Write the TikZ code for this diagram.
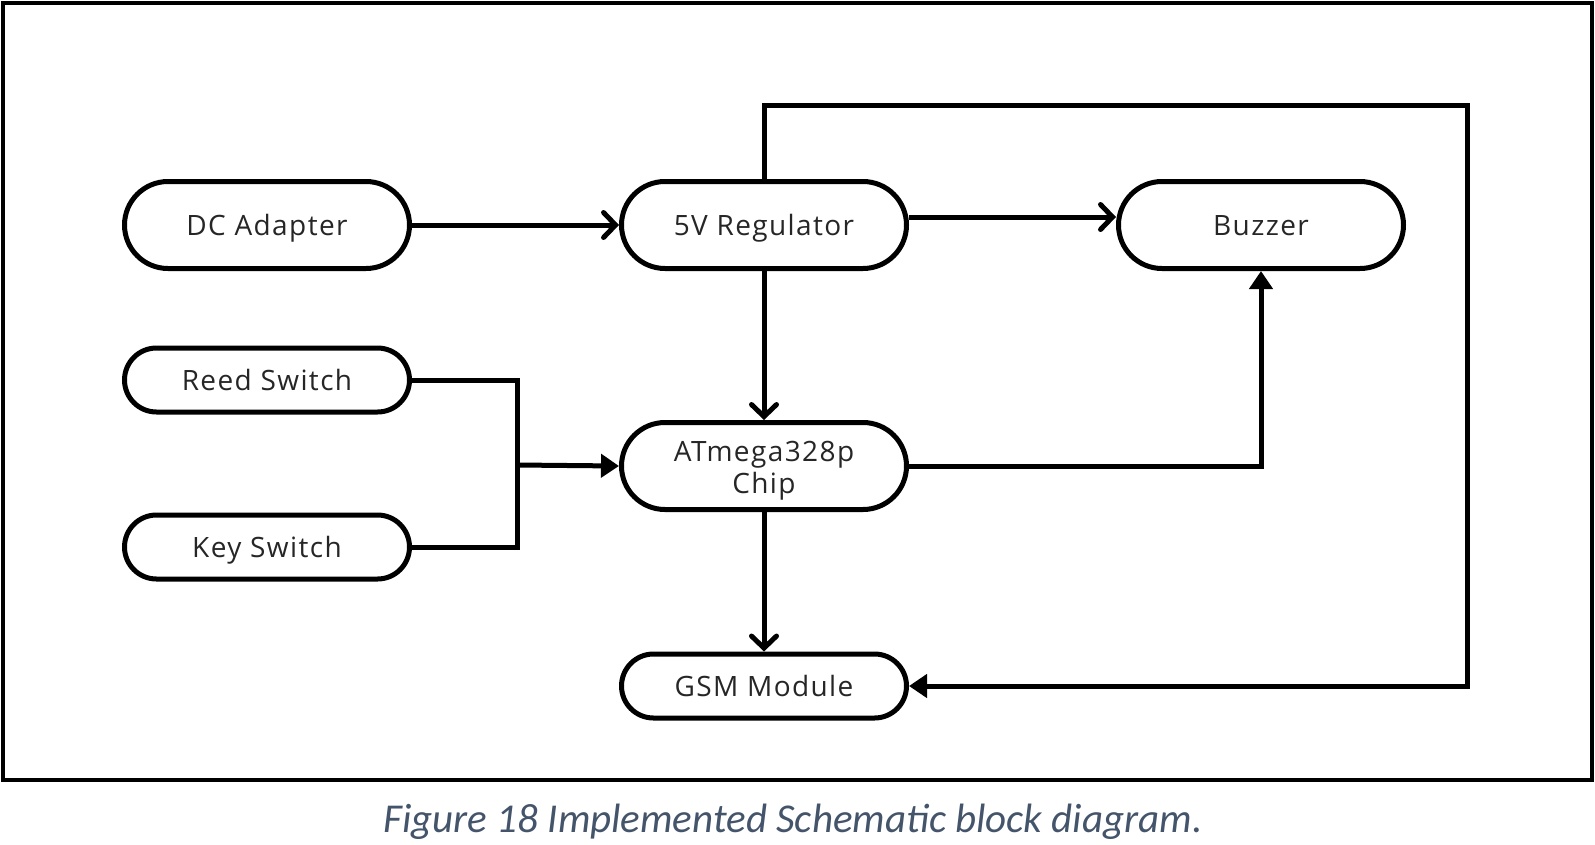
\documentclass[tikz,border=0pt]{standalone}
\usepackage{fontspec}
\setmainfont{Open Sans}[LetterSpace=5]
\newfontfamily\capfont{Carlito}
\usetikzlibrary{shapes.misc,arrows.meta}
\definecolor{captionblue}{HTML}{44546A}
\definecolor{boxtext}{HTML}{262626}
\begin{document}
\begin{tikzpicture}[x=1pt,y=-1pt,
  blkbase/.style={rounded rectangle, draw, line width=5pt, minimum width=285pt, minimum height=87pt,
    font=\fontsize{28}{32}\selectfont, text=boxtext, align=center, inner sep=0pt},
  blk/.style={blkbase, text height=20pt, text depth=0pt},
  blks/.style={blk, minimum height=64pt},
  conn/.style={line width=5pt},
  chev/.style={conn, -{Straight Barb[length=12pt,width=25pt,line cap=round]}},
  tri/.style={conn, -{Triangle[length=18pt,width=23pt]}},
  frame/.style={line width=4pt}
]
\useasboundingbox (0,0) rectangle (1595,844);
\draw[frame] (3,3) rectangle (1592,780);

\node[blk] (dc) at (267,225) {DC Adapter};
\node[blk] (reg) at (764,225) {5V Regulator};
\node[blk] (buz) at (1261,225) {Buzzer};
\node[blks] (reed) at (267,380) {Reed Switch};
\node[blks] (key) at (267,547) {Key Switch};
\node[blkbase] (mcu) at (764,466) {\rule{0pt}{30pt}ATmega328p\\Chip};
\node[blks] (gsm) at (764,686) {GSM Module};

\coordinate (tr) at (1467,105);
\coordinate (mj) at (517,465);

\draw[chev] (dc.east) -- (reg.west);
\draw[chev] ([yshift=8pt]reg.east) -- ([yshift=8pt]buz.west);
\draw[chev] (reg.south) -- (mcu.north);
\draw[chev] (mcu.south) -- (gsm.north);
\draw[tri] (reg.north) |- (tr) |- (gsm.east);
\draw[conn] (reed.east) -| (mj) |- (key.east);
\draw[tri] (mj) -- (mcu.west);
\draw[tri] (mcu.east) -| (buz.south);

\node[font=\capfont\itshape\fontsize{41}{48}\selectfont, text=captionblue, anchor=base] (cap) at (793,832) {Figure 18 Implemented Schematic block diagram.};
\end{tikzpicture}
\end{document}
